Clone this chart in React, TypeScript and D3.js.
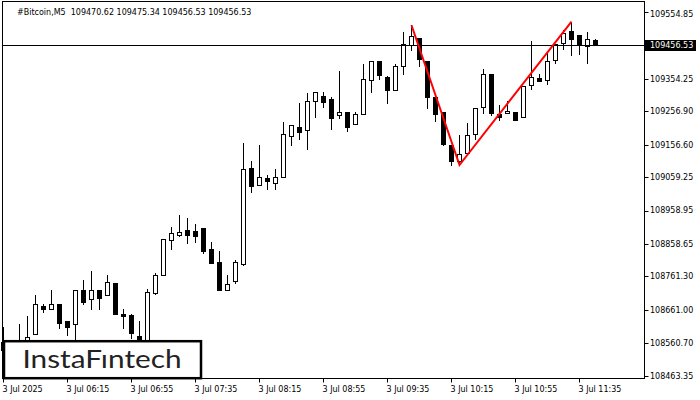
import * as d3 from "d3";

// M5 candles, 3 Jul 2025 05:35 .. 11:45 (one per 5 minutes)
const opens = [
  108564.5, 108540.5, 108534.5, 108555.5, 108588.6, 108672.7, 108662.8, 108678.7, 108627.6, 108617.7,
  108719.8, 108692.8, 108719.8, 108704.8, 108740.8, 108648.6, 108645.6, 108582.6, 108555.5, 108713.2,
  108766.7, 108870.0, 108885.0, 108900.0, 108897.9, 108906.3, 108843.3, 108804.8, 108722.2, 108746.3,
  108800.3, 109086.2, 109034.6, 109056.5, 109040.6, 109060.7, 109184.7, 109210.3, 109202.2, 109287.4,
  109302.8, 109294.4, 109247.8, 109254.7, 109218.4, 109248.4, 109350.5, 109407.9, 109359.8, 109320.5,
  109392.6, 109455.9, 109477.6, 109408.5, 109300.4, 109256.2, 109156.2, 109109.1, 109131.3, 109188.3,
  109269.7, 109368.8, 109249.3, 109251.4, 109254.4, 109241.2, 109335.5, 109356.5, 109352.3, 109410.6,
  109461.6, 109498.6, 109486.6, 109453.5, 109470.62,
];
const highs = [
  108609.6, 108564.5, 108618.6, 108642.6, 108706.6, 108678.7, 108720.7, 108678.7, 108627.6, 108719.8,
  108750.8, 108777.8, 108719.8, 108765.8, 108740.8, 108663.7, 108648.6, 108627.6, 108723.1, 108771.2,
  108873.0, 108909.0, 108946.6, 108936.4, 108918.3, 108906.3, 108864.3, 108838.5, 108765.2, 108810.8,
  109162.2, 109108.2, 109156.2, 109066.1, 109083.5, 109224.7, 109215.4, 109282.3, 109311.8, 109314.5,
  109314.8, 109300.4, 109378.5, 109254.7, 109255.3, 109399.5, 109407.6, 109407.9, 109364.3, 109399.5,
  109494.1, 109515.7, 109477.6, 109408.5, 109300.4, 109256.2, 109156.2, 109186.2, 109222.3, 109266.4,
  109384.5, 109368.8, 109276.3, 109288.4, 109254.4, 109334.3, 109468.5, 109369.4, 109433.4, 109458.6,
  109501.6, 109526.5, 109486.6, 109494.7, 109475.34,
];
const lows = [
  108522.5, 108525.5, 108522.5, 108546.5, 108588.6, 108654.7, 108662.8, 108607.5, 108586.5, 108555.5,
  108677.8, 108664.6, 108664.6, 108704.8, 108650.1, 108608.1, 108576.0, 108540.5, 108546.5, 108707.8,
  108764.3, 108842.4, 108881.7, 108860.4, 108863.4, 108832.7, 108803.3, 108721.3, 108722.2, 108742.7,
  108794.9, 109016.0, 109034.6, 109024.7, 109024.7, 109059.2, 109156.8, 109175.1, 109144.8, 109240.9,
  109269.4, 109205.2, 109238.2, 109199.2, 109218.4, 109248.4, 109316.3, 109355.3, 109283.2, 109320.5,
  109370.9, 109441.5, 109394.1, 109268.2, 109228.3, 109156.2, 109096.1, 109096.1, 109131.3, 109173.3,
  109252.9, 109247.8, 109231.3, 109251.4, 109232.2, 109241.2, 109323.5, 109349.3, 109339.4, 109401.6,
  109443.6, 109425.6, 109428.6, 109401.6, 109456.53,
];
const closes = [
  108540.5, 108555.5, 108564.5, 108579.6, 108678.7, 108662.8, 108678.7, 108622.5, 108610.5, 108719.8,
  108685.6, 108719.8, 108697.6, 108743.8, 108650.1, 108643.5, 108592.5, 108555.5, 108716.2, 108764.3,
  108873.0, 108891.0, 108894.3, 108887.4, 108884.4, 108838.8, 108803.3, 108721.3, 108738.1, 108804.2,
  109083.5, 109034.0, 109059.2, 109048.7, 109059.2, 109188.6, 109215.4, 109195.8, 109287.4, 109314.5,
  109286.2, 109238.2, 109254.7, 109211.2, 109248.7, 109353.5, 109407.6, 109367.9, 109319.9, 109392.6,
  109461.0, 109482.7, 109415.4, 109301.3, 109250.2, 109160.1, 109109.1, 109128.3, 109185.3, 109266.4,
  109368.8, 109252.9, 109238.8, 109258.3, 109232.2, 109334.3, 109359.5, 109349.3, 109408.5, 109458.6,
  109493.5, 109473.7, 109456.5, 109473.7, 109456.53,
];

const timeLabels = [
  "3 Jul 2025", "3 Jul 06:15", "3 Jul 06:55", "3 Jul 07:35", "3 Jul 08:15",
  "3 Jul 08:55", "3 Jul 09:35", "3 Jul 10:15", "3 Jul 10:55", "3 Jul 11:35",
];
const timeLabelBars = [0, 8, 16, 24, 32, 40, 48, 56, 64, 72];

const priceTicks = [
  109554.85, 109354.25, 109256.9, 109156.6, 109059.25, 108958.95,
  108858.65, 108761.3, 108661.0, 108560.7, 108463.35,
];
const lastPrice = 109456.53;

// double top pattern: peak, trough, peak
const patternBars = [51, 57, 71];
const patternPrices = [109515.7, 109096.1, 109526.5];

const header = "#Bitcoin,M5  109470.62 109475.34 109456.53 109456.53";

const FONT = "Tahoma, 'DejaVu Sans', sans-serif";

export default function App() {
  const n = opens.length;
  const left = 3, right = 644.5, top = 1.5, bottom = 378.5;

  const x = d3.scaleLinear().domain([0, n - 1]).range([3, 3 + 8 * (n - 1)]);
  const y = d3.scaleLinear().domain([108463.35, lastPrice]).range([375.7, 45]);

  const cx = (i: number) => Math.round(x(i)) + 0.5;
  const py = (p: number) => Math.round(y(p));

  const pattern = d3.line<number>()
    .x((_, k) => x(patternBars[k]) + 0.5)
    .y(d => y(d));

  const lastY = py(lastPrice) + 0.5;

  return (
    <svg width={700} height={400} style={{ position: "absolute", left: 0, top: 0, background: "#fff" }}
      fontFamily={FONT}>
      <rect x={0} y={0} width={700} height={400} fill="#fff" />

      {/* frame */}
      <rect x={left - 0.5} y={top} width={right - left + 0.5} height={bottom - top}
        fill="none" stroke="#000" strokeWidth={1} />

      {/* candles */}
      {opens.map((o, i) => {
        const c = closes[i];
        const xc = cx(i);
        const yh = py(highs[i]);
        const yl = py(lows[i]);
        const yTop = py(Math.max(o, c));
        const yBot = py(Math.min(o, c));
        const bull = c >= o;
        return (
          <g key={i}>
            <line x1={xc} x2={xc} y1={yh} y2={yl + 1} stroke="#000" strokeWidth={1} />
            {bull ? (
              <rect x={xc - 2} y={yTop + 0.5} width={4} height={Math.max(yBot - yTop, 1)}
                fill="#fff" stroke="#000" strokeWidth={1} />
            ) : (
              <rect x={xc - 2.5} y={yTop} width={5} height={Math.max(yBot - yTop + 1, 2)} fill="#000" />
            )}
          </g>
        );
      })}

      {/* current price line */}
      <line x1={left} x2={right} y1={lastY} y2={lastY} stroke="#000" strokeWidth={1} />

      {/* pattern */}
      <path d={pattern(patternPrices) ?? ""} fill="none" stroke="#ff0000" strokeWidth={2} />

      {/* price axis */}
      {priceTicks.map(p => (
        <g key={p}>
          <line x1={right} x2={right + 4} y1={py(p) + 0.5} y2={py(p) + 0.5} stroke="#000" />
          <text x={650} y={Math.max(y(p), 14)} dy="0.35em" fontSize={8} fill="#000">{p.toFixed(2)}</text>
        </g>
      ))}
      <rect x={right + 0.5} y={lastY - 5.5} width={51} height={11} fill="#000" />
      <text x={650} y={lastY} dy="0.35em" fontSize={8} fill="#fff">{lastPrice.toFixed(2)}</text>

      {/* time axis */}
      {timeLabelBars.map((b, k) => (
        <g key={b}>
          <line x1={cx(b)} x2={cx(b)} y1={bottom} y2={bottom + 4} stroke="#000" />
          <text x={cx(b) - 1} y={391.5} fontSize={8} fill="#000">{timeLabels[k]}</text>
        </g>
      ))}

      {/* header */}
      <text x={17} y={14.5} fontSize={8} fill="#000" xmlSpace="preserve" style={{ whiteSpace: "pre" }}>
        {header}
      </text>

      {/* logo */}
      <rect x={4} y={341.2} width={197} height={37} fill="#fff" stroke="#000" strokeWidth={2.5} />
      <text x={22.5} y={368.3} fontFamily="Lato, 'Open Sans', sans-serif" fontSize={25.5}
        fill="#222" textLength={159} lengthAdjust="spacingAndGlyphs">InstaFıntech</text>
    </svg>
  );
}
